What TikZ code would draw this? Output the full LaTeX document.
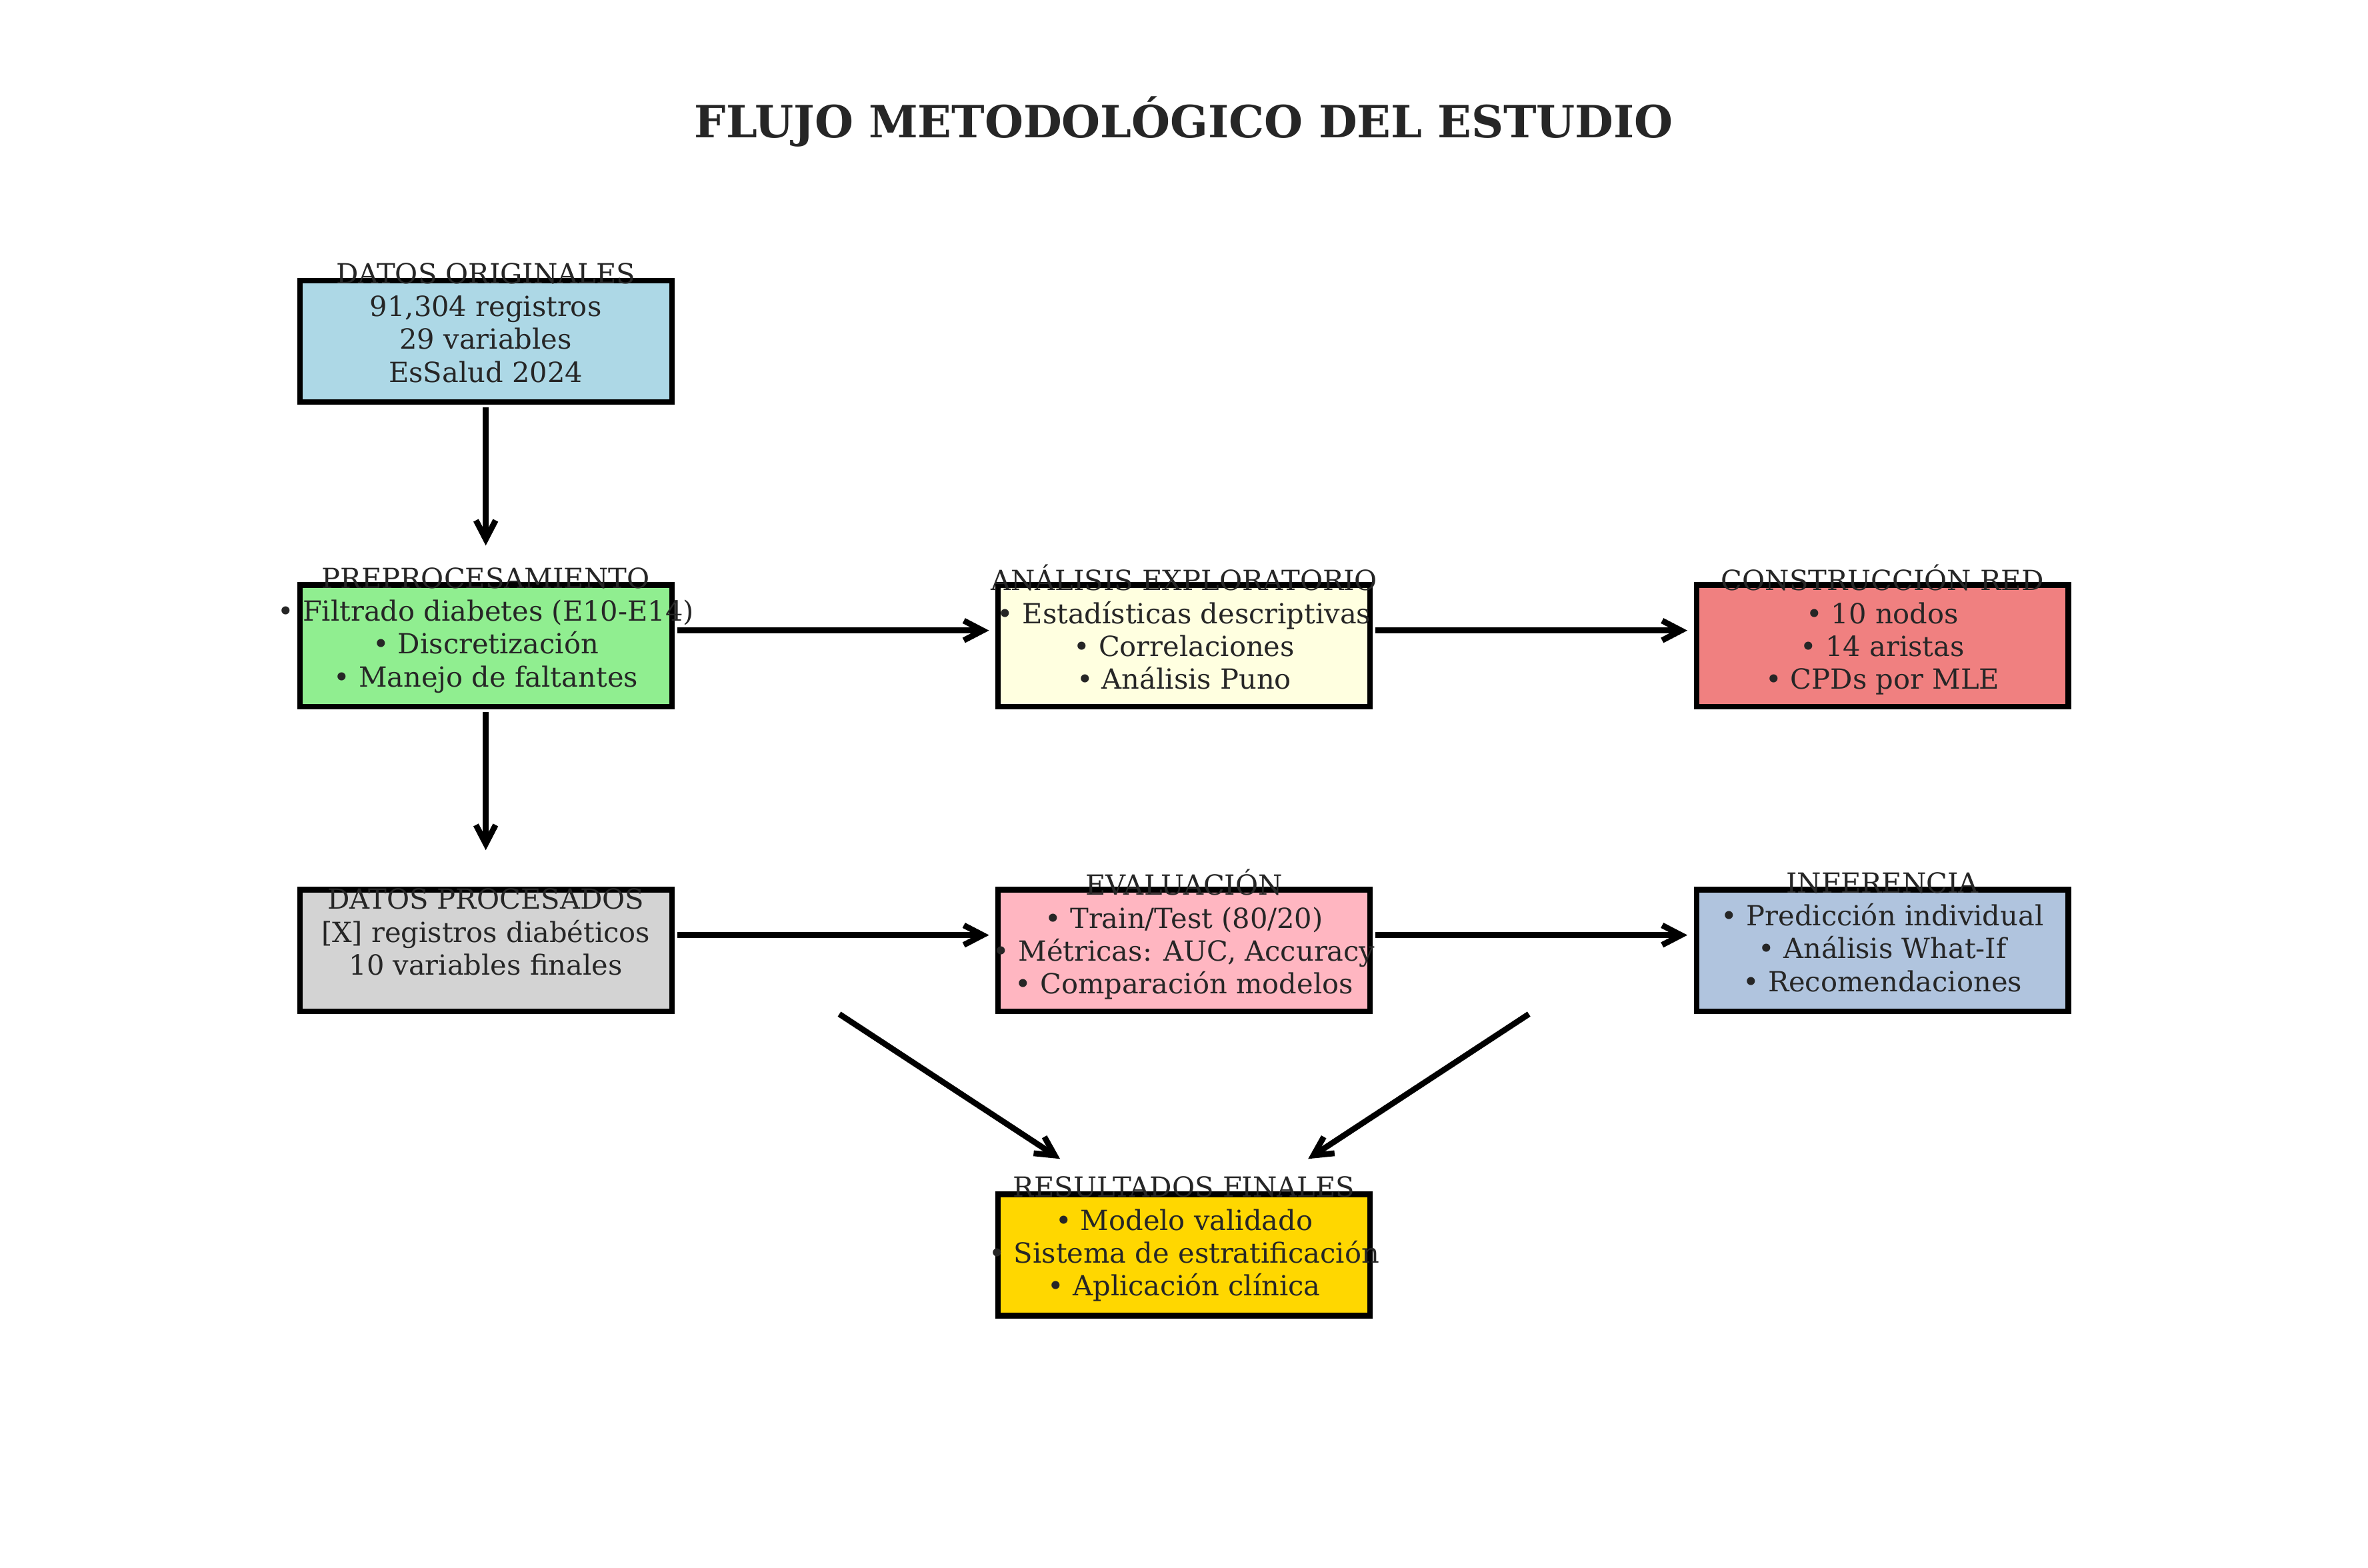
\documentclass[tikz,border=0pt]{standalone}
\usepackage{fontspec}
\setmainfont{DejaVu Serif}
\usetikzlibrary{arrows.meta,positioning}
\definecolor{textgray}{HTML}{262626}
\definecolor{origblue}{HTML}{ADD8E6}
\definecolor{prepgreen}{HTML}{90EE90}
\definecolor{explyellow}{HTML}{FFFFE0}
\definecolor{redcoral}{HTML}{F08080}
\definecolor{procgray}{HTML}{D3D3D3}
\definecolor{evalpink}{HTML}{FFB6C1}
\definecolor{infsteel}{HTML}{B0C4DE}
\definecolor{resgold}{HTML}{FFD700}
\newcommand{\hstrut}{\vrule height 8.7pt depth 0pt width 0pt}
\newcommand{\dstrut}{\vrule height 0pt depth 3.7pt width 0pt}
\tikzset{%
  >={Straight Barb[length=2.5mm,width=2.6mm]},
  % Specifications for style of nodes:
     box/.style = {rectangle, draw=black, line width=2.07pt,
                   minimum width=4.926cm, minimum height=1.608cm,
                   inner sep=0pt, outer sep=0pt},
     txt/.style = {align=center, text=textgray, inner sep=0pt,
                   font=\fontsize{10.45}{12.39}\selectfont,
                   execute at begin node=\hstrut, execute at end node=\dstrut},
   title/.style = {text=textgray, font=\fontsize{16.73}{20}\selectfont\bfseries},
    flow/.style = {->, line width=2.2pt, shorten <=0.72mm, shorten >=1.2mm},
}
\begin{document}
\begin{tikzpicture}[node distance=2.426cm and 4.322cm]
    \useasboundingbox (0,0) rectangle (31.36,-20.765);

    \node (title) [title, anchor=base] at (15.68,-1.824) {FLUJO METODOLÓGICO DEL ESTUDIO};

    \node (orig) [box, fill=origblue] at (6.433,-4.518) {};
    \node (prep) [box, fill=prepgreen, below = of orig] {};
    \node (dproc) [box, fill=procgray, below = of prep] {};
    \node (expl) [box, fill=explyellow, right = of prep] {};
    \node (red) [box, fill=redcoral, right = of expl] {};
    \node (eval) [box, fill=evalpink, right = of dproc] {};
    \node (infer) [box, fill=infsteel, right = of eval] {};
    \node (res) [box, fill=resgold, below = of eval] {};

    \node (origtxt) [txt] at ([yshift=1.82mm]orig.center) {DATOS ORIGINALES\\91,304 registros\\29 variables\\EsSalud 2024};
    \node (preptxt) [txt] at ([yshift=1.82mm]prep.center) {PREPROCESAMIENTO\\• Filtrado diabetes (E10-E14)\\• Discretización\\• Manejo de faltantes};
    \node (expltxt) [txt] at ([yshift=1.82mm]expl.center) {ANÁLISIS EXPLORATORIO\\• Estadísticas descriptivas\\• Correlaciones\\• Análisis Puno};
    \node (redtxt) [txt] at ([yshift=1.82mm]red.center) {CONSTRUCCIÓN RED\\• 10 nodos\\• 14 aristas\\• CPDs por MLE};
    \node (dproctxt) [txt] at ([yshift=1.82mm]dproc.center) {DATOS PROCESADOS\\{[X]} registros diabéticos\\10 variables finales};
    \node (evaltxt) [txt] at ([yshift=1.82mm]eval.center) {EVALUACIÓN\\• Train/Test (80/20)\\• Métricas: AUC, Accuracy\\• Comparación modelos};
    \node (infertxt) [txt] at ([yshift=1.82mm]infer.center) {INFERENCIA\\• Predicción individual\\• Análisis What-If\\• Recomendaciones};
    \node (restxt) [txt] at ([yshift=1.82mm]res.center) {RESULTADOS FINALES\\• Modelo validado\\• Sistema de estratificación\\• Aplicación clínica};

    \coordinate (splitL) at ([xshift=-4.626cm]eval.south);
    \coordinate (splitR) at ([xshift=4.626cm]eval.south);
    \coordinate (joinL) at ([xshift=-1.542cm,yshift=4.03mm]res.north);
    \coordinate (joinR) at ([xshift=1.542cm,yshift=4.03mm]res.north);

    \draw [flow] (orig.south) -- ([yshift=4.03mm]prep.north);
    \draw [flow] (prep.south) -- ([yshift=4.03mm]dproc.north);
    \draw [flow] ([yshift=2.02mm]prep.east) -- ([yshift=2.02mm]expl.west);
    \draw [flow] ([yshift=2.02mm]expl.east) -- ([yshift=2.02mm]red.west);
    \draw [flow] ([yshift=2.02mm]dproc.east) -- ([yshift=2.02mm]eval.west);
    \draw [flow] ([yshift=2.02mm]eval.east) -- ([yshift=2.02mm]infer.west);
    \draw [flow] (splitL) -- (joinL);
    \draw [flow] (splitR) -- (joinR);
\end{tikzpicture}
\end{document}
